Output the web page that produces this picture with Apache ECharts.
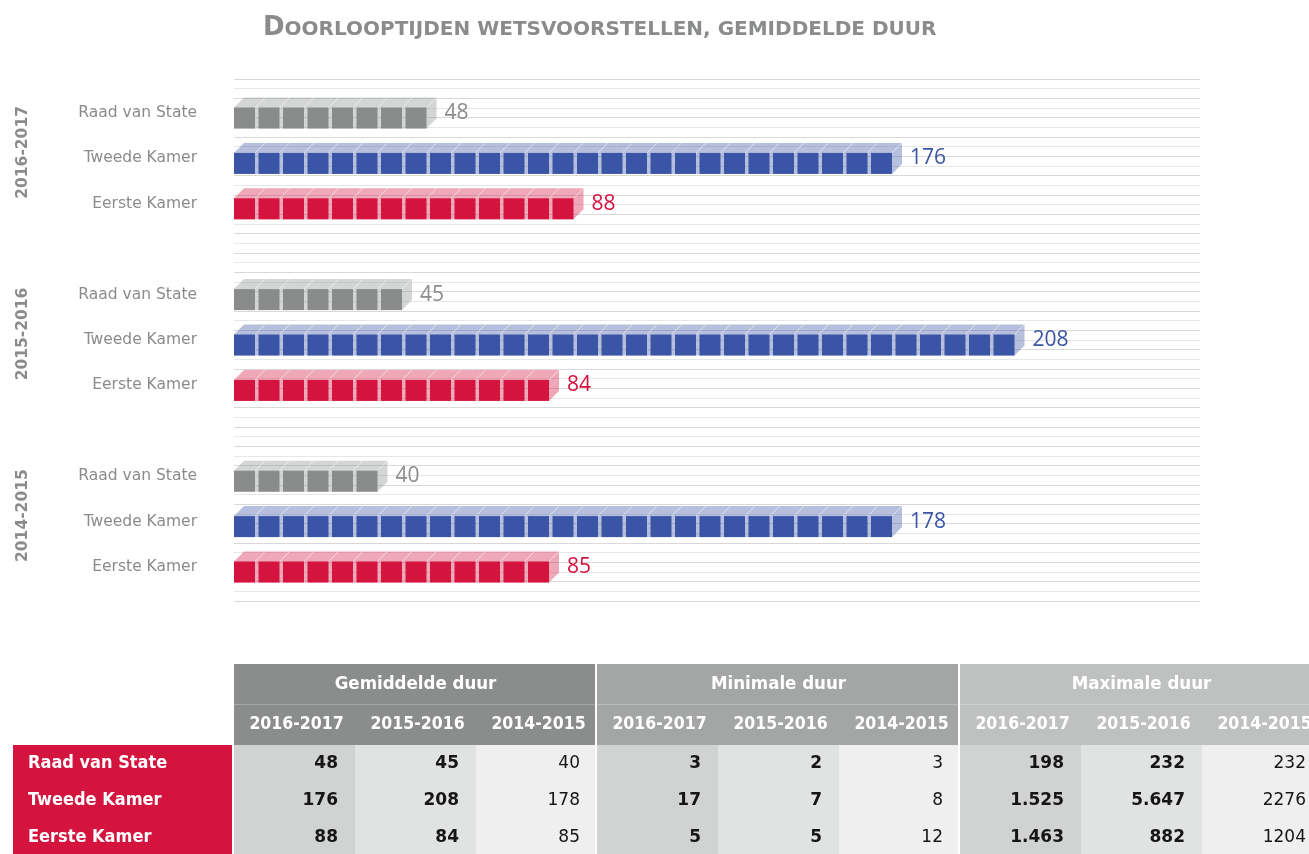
<!DOCTYPE html>
<html><head><meta charset="utf-8">
<script src="https://cdn.jsdelivr.net/npm/echarts@6/dist/echarts.min.js"></script>
<style>html,body{margin:0;padding:0;background:#fff}#c{width:1309px;height:854px}</style>
</head><body><div id="c"></div>
<script>
const chartTitle = 'Doorlooptijden wetsvoorstellen, gemiddelde duur';
const years = ['2016-2017', '2015-2016', '2014-2015'];
const institutions = ['Raad van State', 'Tweede Kamer', 'Eerste Kamer'];
const measures = ['Gemiddelde duur', 'Minimale duur', 'Maximale duur'];
// values per year, order: Raad van State, Tweede Kamer, Eerste Kamer (days)
const gem2016 = [48, 176, 88];
const gem2015 = [45, 208, 84];
const gem2014 = [40, 178, 85];
const min2016 = [3, 17, 5];
const min2015 = [2, 7, 5];
const min2014 = [3, 8, 12];
const max2016 = ['198', '1.525', '1.463'];
const max2015 = ['232', '5.647', '882'];
const max2014 = ['232', '2276', '1204'];

const instColors = ['#8a8c8c', '#3a55a5', '#d4133f'];
const groupColors = ['#8b8d8d', '#a4a6a6', '#bfc0c0'];
const cellColors = ['#d1d2d2', '#e1e2e2', '#efefef'];

const gemByYear = [gem2016, gem2015, gem2014];
const tableCols = [gem2016, gem2015, gem2014, min2016, min2015, min2014, max2016, max2015, max2014];

// categories for the bar chart (with a blank row between year groups)
const catKeys = [];
const barData = [];
years.forEach((y, g) => {
  institutions.forEach((inst, i) => {
    barData.push([gemByYear[g][i], catKeys.length, i]);
    catKeys.push(inst + '|' + y);
  });
  if (g < years.length - 1) catKeys.push(' |' + g);
});

const PITCH = 24.5, BW = 21, BH = 21, DX = 10, DY = 10;
function renderBlocks(params, api) {
  const v = api.value(0), cat = api.value(1), k = api.value(2);
  const p0 = api.coord([0, cat]), p1 = api.coord([v, cat]);
  const n = Math.ceil((p1[0] - p0[0]) / PITCH - 1e-9);
  const color = instColors[k];
  const yT = p0[1] - (BH + DY) / 2 + DY;
  const yB = yT + BH;
  const x0 = p0[0];
  const xEnd = x0 + (n - 1) * PITCH + BW;
  const children = [];
  children.push({ type: 'polygon', shape: { points: [[x0, yT], [x0 + DX, yT - DY], [xEnd + DX, yT - DY], [xEnd + DX, yB - DY], [xEnd, yB], [x0, yB]] },
    style: { fill: color, opacity: 0.37 } });
  for (let j = 0; j < n; j++) {
    const x = x0 + j * PITCH;
    children.push({ type: 'line', shape: { x1: x + BW, y1: yT, x2: x + BW + DX, y2: yT - DY }, style: { stroke: 'rgba(255,255,255,0.55)', lineWidth: 1 } });
  }
  for (let j = 0; j < n; j++) {
    const x = x0 + j * PITCH;
    children.push({ type: 'rect', shape: { x: x, y: yT, width: BW, height: BH }, style: { fill: color } });
  }
  children.push({ type: 'text', x: xEnd + 18, y: p0[1], style: { text: String(v), fill: color, fontSize: 21, fontFamily: 'Open Sans', align: 'left', verticalAlign: 'middle' } });
  return { type: 'group', children };
}

// table header items
const headerItems = [];
measures.forEach((m, g) => headerItems.push({ col: g * 3 + 1, row: 0, text: m, span: 3, color: groupColors[g] }));
for (let c = 0; c < 9; c++) headerItems.push({ col: c, row: 1, text: years[c % 3], span: 1, color: groupColors[Math.floor(c / 3)] });

function renderHeader(params, api) {
  const it = headerItems[params.dataIndex];
  const c = api.coord([api.value(0), api.value(1)]);
  const s = api.size([1, 1]);
  const w = s[0] * it.span;
  const x = c[0] - w / 2, y = c[1] - s[1] / 2;
  const last = it.span === 3 || it.col % 3 === 2;
  return { type: 'group', children: [
    { type: 'rect', shape: { x: x, y: y, width: w - (last ? 2 : 0), height: s[1] }, style: { fill: it.color } },
    { type: 'text', x: c[0] + (it.span === 1 ? 2 : 0), y: c[1], style: { text: it.text, fill: '#ffffff', fontSize: it.span === 3 ? 18.5 : 17.5, fontWeight: 'bold', fontFamily: 'DejaVu Sans Condensed', align: 'center', verticalAlign: 'middle' } }
  ] };
}

// table body items
const bodyItems = [];
for (let c = 0; c < 9; c++) for (let r = 0; r < 3; r++) bodyItems.push({ col: c, row: r, text: String(tableCols[c][r]) });

function renderBody(params, api) {
  const it = bodyItems[params.dataIndex];
  const c = api.coord([api.value(0), api.value(1)]);
  const s = api.size([1, 1]);
  const x = c[0] - s[0] / 2, y = c[1] - s[1] / 2;
  const last = it.col % 3 === 2;
  return { type: 'group', children: [
    { type: 'rect', shape: { x: x, y: y, width: s[0] - (last ? 2 : 0), height: s[1] }, style: { fill: cellColors[it.col % 3] } },
    { type: 'text', x: x + s[0] - 17, y: c[1], style: { text: it.text, fill: '#151515', fontSize: 17, fontWeight: last ? 'normal' : 'bold', fontFamily: 'DejaVu Sans', align: 'right', verticalAlign: 'middle' } }
  ] };
}

const colKeys = [];
measures.forEach(m => years.forEach(y => colKeys.push(m + ' ' + y)));

const hidden = { show: false };
const chart = echarts.init(document.getElementById('c'));
chart.setOption({
  animation: false,
  title: {
    text: '{a|' + chartTitle[0] + '}{b|' + chartTitle.slice(1).toUpperCase() + '}',
    left: 258, top: 10,
    textStyle: { rich: {
      a: { fontSize: 26, fontWeight: 'bold', color: '#8a8c8c', fontFamily: 'DejaVu Sans', verticalAlign: 'bottom' },
      b: { fontSize: 20, fontWeight: 'bold', color: '#8a8c8c', fontFamily: 'DejaVu Sans', verticalAlign: 'bottom', padding: [0, 0, 1, 0] }
    } }
  },
  grid: [
    { left: 234, top: 79, width: 966, height: 522, outerBoundsMode: 'none' },
    { left: 234, top: 90.3, width: 966, height: 499.4, outerBoundsMode: 'none' },
    { left: 234, top: 664, width: 1089, height: 81, outerBoundsMode: 'none' },
    { left: 234, top: 745, width: 1089, height: 111, outerBoundsMode: 'none' }
  ],
  xAxis: [
    { type: 'value', gridIndex: 0, min: 0, max: 1, show: false },
    { type: 'value', gridIndex: 1, min: 0, max: 264, show: false },
    { type: 'category', gridIndex: 2, data: colKeys, show: false },
    { type: 'category', gridIndex: 3, data: colKeys, show: false }
  ],
  yAxis: [
    { type: 'value', gridIndex: 0, min: 0, max: 54, interval: 1, axisLine: hidden, axisTick: hidden, axisLabel: hidden, z: 0,
      splitLine: { show: true, lineStyle: { color: ['#d9d9d9', '#e7e7e7'], width: 1 } } },
    { type: 'category', gridIndex: 1, data: catKeys, inverse: true, axisLine: hidden, axisTick: hidden, splitLine: hidden,
      axisLabel: { interval: 0, margin: 37, formatter: v => v.split('|')[0], color: '#8a8c8c', fontSize: 15.5, fontFamily: 'DejaVu Sans' } },
    { type: 'category', gridIndex: 1, data: catKeys, inverse: true, position: 'left', offset: 195, axisLine: hidden, axisTick: hidden, splitLine: hidden,
      axisLabel: { interval: 0, rotate: 90, margin: 8, padding: [0, 0, 0, 12],
        formatter: (v, idx) => (idx % 4 === 1 ? years[(idx - 1) / 4] : ''),
        color: '#8a8c8c', fontSize: 15.5, fontWeight: 'bold', fontFamily: 'DejaVu Sans' } },
    { type: 'category', gridIndex: 2, data: ['groep', 'jaar'], inverse: true, show: false },
    { type: 'category', gridIndex: 3, data: institutions, inverse: true, axisLine: hidden, axisTick: hidden, splitLine: hidden,
      axisLabel: { interval: 0, align: 'left', margin: 221, width: 204, height: 37, lineHeight: 37, padding: [0, 0, 0, 15],
        backgroundColor: '#d4133f', color: '#ffffff', fontWeight: 'bold', fontSize: 18, fontFamily: 'DejaVu Sans Condensed' } }
  ],
  series: [
    { type: 'custom', xAxisIndex: 1, yAxisIndex: 1, z: 10, data: barData, renderItem: renderBlocks },
    { type: 'custom', xAxisIndex: 2, yAxisIndex: 3, data: headerItems.map(h => [h.col, h.row]), renderItem: renderHeader },
    { type: 'custom', xAxisIndex: 3, yAxisIndex: 4, data: bodyItems.map(b => [b.col, b.row]), renderItem: renderBody }
  ]
});
</script></body></html>
